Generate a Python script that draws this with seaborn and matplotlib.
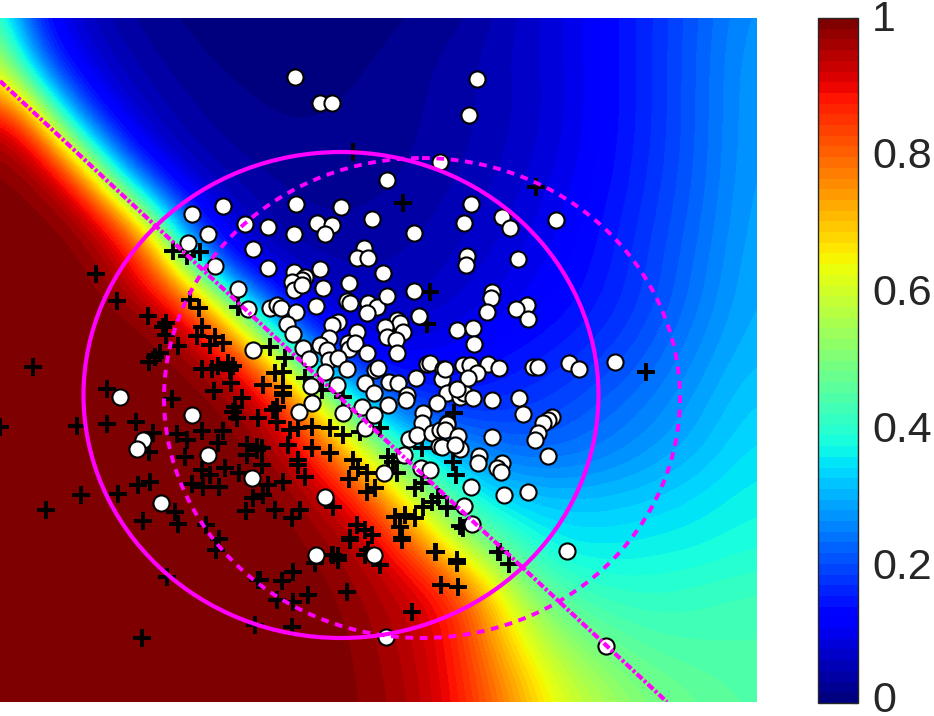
import numpy as np
import matplotlib
matplotlib.use("Agg")
import matplotlib.pyplot as plt
from matplotlib.colors import FuncNorm, Normalize
from matplotlib.cm import ScalarMappable
from matplotlib.patches import Ellipse
from matplotlib.transforms import ScaledTranslation
import seaborn as sns

# probability read from the background, sampled every 50 units in x and y
p_y000 = [.42,.11,.05,.02,.009,.006,.005,.006,.012,.02,.05,.085,.125,.17,.22,.27]
p_y050 = [.56,.16,.07,.035,.016,.01,.008,.011,.022,.036,.06,.085,.125,.17,.225,.28]
p_y100 = [.76,.42,.12,.055,.028,.016,.012,.017,.026,.038,.056,.082,.125,.17,.225,.285]
p_y150 = [.97,.74,.375,.1,.045,.027,.02,.022,.028,.04,.06,.087,.127,.172,.226,.285]
p_y200 = [.995,.96,.72,.39,.11,.05,.03,.028,.034,.05,.07,.1,.135,.18,.23,.29]
p_y250 = [.999,.995,.95,.74,.28,.08,.045,.04,.045,.06,.082,.11,.145,.19,.24,.295]
p_y300 = [.999,.999,.98,.89,.70,.36,.11,.06,.058,.075,.1,.125,.155,.195,.25,.30]
p_y350 = [.999,.999,.999,.99,.90,.70,.38,.13,.1,.115,.135,.155,.18,.22,.27,.31]
p_y400 = [.999,.999,.999,.998,.99,.92,.70,.42,.2,.16,.17,.19,.22,.25,.29,.33]
p_y450 = [.999,.999,.999,.999,.998,.98,.875,.66,.42,.3,.24,.23,.25,.28,.31,.35]
p_y500 = [.999,.999,.999,.999,.999,.995,.96,.87,.65,.44,.34,.32,.32,.33,.35,.37]
p_y550 = [.999,.999,.999,.999,.999,.998,.987,.955,.85,.62,.47,.37,.36,.37,.375,.39]
p_y600 = [.999,.999,.999,.999,.999,.999,.995,.975,.94,.875,.64,.47,.42,.41,.42,.43]
p_y650 = [.999,.999,.999,.999,.999,.999,.998,.982,.95,.88,.72,.57,.49,.45,.44,.44]
p_y700 = [.999,.999,.999,.999,.999,.999,.998,.986,.96,.89,.78,.64,.56,.5,.47,.45]

white_x = [295,477,320,332,469,387,192,223,245,208,188,268,296,294,317,332,325,341,372,414,
           440,471,464,502,510,556,253,364,357,368,383,268,294,305,302,292,320,294,302,349,
           323,414,347,350,368,377,367,387,316,270,277,281,296,419,397,400,385,403,387,396,
           397,338,332,287,293,357,329,348,349,355,367,320,327,303,309,253,329,338,347,325,
           375,378,427,430,365,416,389,398,443,442,311,337,374,407,447,299,312,343,365,362,
           374,388,406,423,437,447,422,409,417,432,440,439,404,421,430,384,252,325,316,374,
           460,464,473,492,519,523,552,548,543,538,535,548,447,445,458,492,442,460,455,479,
           478,502,497,501,471,504,528,464,472,567,467,466,518,492,491,487,527,516,528,457,
           473,474,445,463,470,488,499,533,538,569,579,615,477,468,457,215,238,248,120,192,
           143,137,208,161,386,606]
white_y = [77,79,103,103,115,180,214,206,224,234,243,227,204,234,223,225,234,207,219,233,
           162,204,223,217,228,220,249,248,258,258,273,268,272,277,280,282,269,290,285,283,
           288,291,301,303,303,307,313,296,306,308,305,308,312,316,320,323,327,332,337,340,
           353,322,325,324,334,332,338,343,349,343,353,345,350,348,359,350,360,358,369,372,
           370,368,364,363,383,378,382,383,369,379,386,385,393,395,393,412,403,413,428,407,
           415,405,400,413,403,423,423,439,435,433,430,446,455,468,470,473,478,497,555,555,
           397,393,398,400,398,414,417,420,423,433,440,456,424,430,436,437,447,449,445,456,
           463,463,468,472,487,495,492,506,524,551,256,265,259,292,298,312,305,309,319,330,
           328,344,369,365,365,364,368,367,367,363,369,362,373,378,389,266,289,309,397,415,
           440,449,455,503,637,646]

plus_x = [96,117,148,166,163,166,178,160,155,149,33,107,172,77,107,136,0,153,149,177,
          187,202,185,173,187,200,190,199,202,197,210,215,223,202,212,218,228,233,230,231,
          214,242,235,233,237,223,218,247,257,247,238,46,81,118,138,150,143,175,178,192,
          202,203,210,219,225,239,246,253,206,219,216,167,142,255,258,270,285,283,275,263,
          283,283,305,430,427,322,343,283,277,273,258,277,290,298,312,330,343,360,380,288,
          312,330,298,298,262,305,257,262,283,268,263,253,275,300,292,333,349,353,358,367,
          393,388,397,367,375,422,415,422,423,432,438,447,395,405,415,400,402,357,365,350,
          372,368,435,333,338,454,453,456,447,460,463,500,457,350,402,332,338,315,365,380,
          436,457,498,509,293,282,260,277,293,308,347,441,458,412,292,353,403,536,646]
plus_y = [274,301,316,323,327,335,346,353,357,362,367,389,399,426,424,422,427,433,452,434,
          440,431,457,251,256,252,300,308,327,336,345,337,343,369,369,366,363,366,370,383,
          391,398,407,412,418,431,443,445,450,455,307,510,495,494,485,482,521,512,524,484,
          470,487,475,487,468,473,511,498,525,539,550,577,638,625,580,347,358,372,373,385,
          387,395,378,292,324,390,397,393,407,410,418,422,430,428,427,428,435,432,428,445,
          448,453,460,465,465,477,447,448,482,485,495,498,510,510,518,507,479,460,468,473,
          462,457,473,492,488,448,488,483,507,502,497,507,517,515,518,527,538,525,530,538,
          535,550,552,555,556,413,462,475,508,526,528,552,560,540,540,555,560,563,555,565,
          552,563,552,564,572,581,580,600,602,595,592,585,587,612,627,152,203,187,372]

colorbar_ticks = [0, 0.2, 0.4, 0.6, 0.8, 1]
colorbar_labels = ["0", "0.2", "0.4", "0.6", "0.8", "1"]

boundary_x = [0, 667]
boundary_y = [81, 702]

solid_centre = (341, 395)
solid_size = (515, 486)
dashed_centre = (422, 398)
dashed_size = (516, 480)

# ------------------------------------------------------------------
W, H = 934, 716
sns.set_style("white")
plt.rcParams["font.family"] = ["Liberation Sans", "DejaVu Sans"]
fig = plt.figure(figsize=(W / 100, H / 100), dpi=100)
ax = fig.add_axes([0, 1 - 701.5 / H, 757 / W, (701.5 - 18) / H])
cax = fig.add_axes([818 / W, 1 - 703 / H, 40 / W, (703 - 18) / H])

jet = plt.get_cmap("jet", 64)
rows = np.array([p_y000, p_y050, p_y100, p_y150, p_y200, p_y250, p_y300, p_y350,
                 p_y400, p_y450, p_y500, p_y550, p_y600, p_y650, p_y700])
log_odds = np.log(rows / (1 - rows))
def to_p(v):
    return 1 / (1 + np.exp(-np.asarray(v)))
def to_logit(v):
    v = np.asarray(v)
    return np.log(v / (1 - v))
norm = FuncNorm((to_p, to_logit), vmin=-9, vmax=9)
ax.imshow(log_odds, cmap=jet, norm=norm, interpolation="bicubic",
          interpolation_stage="data", extent=(-25, 775, 725, -25), aspect="auto", zorder=0)

sns.scatterplot(x=plus_x, y=plus_y, marker="+", s=175, color="black", linewidth=2.8,
                ax=ax, zorder=2, legend=False, clip_on=True)
sns.scatterplot(x=white_x, y=white_y, marker="o", s=135, facecolor="white", edgecolor="black",
                linewidth=1.5, ax=ax, zorder=3, legend=False)

magenta = "#ff00ff"
ax.add_patch(Ellipse(solid_centre, *solid_size, fill=False, edgecolor=magenta, linewidth=3.0, zorder=4))
ax.add_patch(Ellipse(dashed_centre, *dashed_size, fill=False, edgecolor=magenta, linewidth=2.8,
                     linestyle=(0, (2.0, 1.7)), zorder=4))
ax.plot(boundary_x, boundary_y, color=magenta, linewidth=3.0,
        linestyle=(0, (1.8, 0.55, 0.7, 0.55)), zorder=5, dash_capstyle="butt")

ax.set_xlim(0, 757)
ax.set_ylim(701.5, 18)
ax.axis("off")

cb = fig.colorbar(ScalarMappable(norm=Normalize(0, 1), cmap=jet), cax=cax)
cb.set_ticks(colorbar_ticks, labels=colorbar_labels)
cb.ax.tick_params(direction="in", length=5, width=0.8, color="#262626", labelsize=31,
                  labelcolor="#262626", pad=10, right=True, left=False)
cb.outline.set_edgecolor("#262626")
cb.outline.set_linewidth(1.0)
for lab in cb.ax.get_yticklabels():
    shift_px = 6.5 if lab.get_text() == "0" else 2.5
    up = ScaledTranslation(0, shift_px / 100, fig.dpi_scale_trans)
    lab.set_transform(lab.get_transform() + up)

fig.savefig("out.png", dpi=100, facecolor="white")
